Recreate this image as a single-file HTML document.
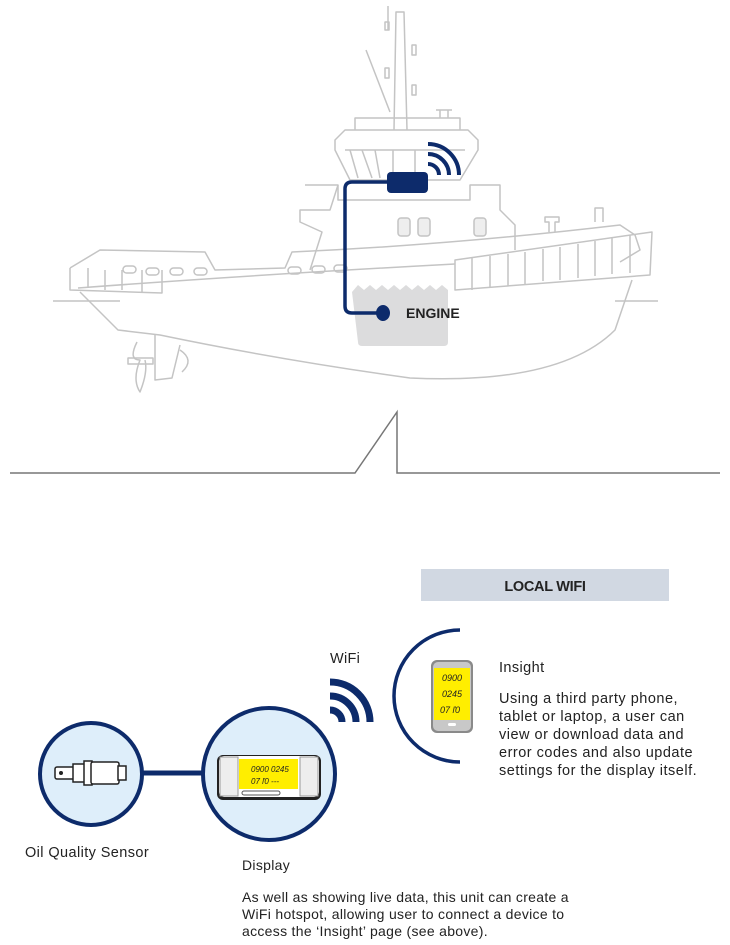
<!DOCTYPE html>
<html><head><meta charset="utf-8"><style>
html,body{margin:0;padding:0;background:#fff;}
svg{display:block}
text{font-family:"Liberation Sans",sans-serif;fill:#222;}
</style></head><body>
<svg width="730" height="945" viewBox="0 0 730 945" xmlns="http://www.w3.org/2000/svg">
<g fill="none" stroke="#c4c4c4" stroke-width="1.5" stroke-linejoin="round">
  <path d="M394 130 L396 12 L404 12 L407 130"/>
  <line x1="388" y1="6" x2="388" y2="30"/>
  <line x1="366" y1="50" x2="390" y2="112"/>
  <path d="M385 22 h4 v8 h-4z M412 45 h4 v10 h-4z M385 68 h4 v10 h-4z M412 85 h4 v10 h-4z"/>
  <path d="M355 130 L355 118 L460 118 L460 130"/>
  <path d="M440 118 v-8 h8 v8 M436 110 h16"/>
  <path d="M335 140 L345 130 L468 130 L478 140 L478 150 L460 180 L350 180 L335 150 Z"/>
  <path d="M345 150 L465 150"/>
  <path d="M350 150 L358 178 M362 150 L372 178 M375 150 L380 178 M393 150 L393 178 M415 150 L415 178"/>
  <path d="M305 185 L338 185 L338 200 L470 200 L470 185 L500 185 L500 210 L515 225 L515 250"/>
  <path d="M338 185 L330 210 L300 210 L300 222 L322 232 L310 270"/>
  <rect x="398" y="218" width="12" height="18" rx="3" fill="#eee"/>
  <rect x="418" y="218" width="12" height="18" rx="3" fill="#eee"/>
  <rect x="474" y="218" width="12" height="18" rx="3" fill="#eee"/>
  <path d="M549 232 v-10 h-4 v-5 h14 v5 h-4 v10 M595 222 v-14 h8 v14"/>
  <path d="M70 268 L100 250 L205 252 L215 270 L285 268 L292 252 Q450 245 620 225 L635 235 L640 250 L620 262"/>
  <path d="M78 288 Q250 275 455 264"/>
  <path d="M70 268 L70 290 L162 293 L162 270"/>
  <path d="M88 268 v20 M105 270 v20 M122 270 v20 M142 270 v22"/>
  <path d="M455 260 L455 290 Q560 282 650 275 L652 232 Q560 245 455 260 Z"/>
  <path d="M472 258 v32 M490 256 v32 M508 254 v32 M525 252 v32 M543 249 v32 M560 247 v33 M578 244 v34 M595 241 v35 M612 238 v36 M630 235 v38"/>
  <rect x="123" y="266" width="13" height="7" rx="3.5"/>
  <rect x="146" y="268" width="13" height="7" rx="3.5"/>
  <rect x="170" y="268" width="13" height="7" rx="3.5"/>
  <rect x="194" y="268" width="13" height="7" rx="3.5"/>
  <rect x="288" y="267" width="13" height="7" rx="3.5"/>
  <rect x="312" y="266" width="13" height="7" rx="3.5"/>
  <rect x="334" y="265" width="13" height="7" rx="3.5"/>
  <path d="M80 292 L118 330 L160 335 Q280 360 410 378 Q560 385 615 330 L632 280"/>
  <line x1="53" y1="301" x2="120" y2="301"/>
  <line x1="615" y1="301" x2="658" y2="301"/>
  <path d="M155 335 L155 380 L172 378 L180 345"/>
  <path d="M180 350 Q195 360 182 372"/>
  <path d="M137 342 Q128 360 140 360 Q132 380 140 392 Q148 372 145 360"/>
  <path d="M128 358 h25 v6 h-25z"/>
</g>
<path d="M352 292 l6-7 6 5 6-5 6 5 6-5 6 5 6-5 6 5 6-5 6 5 6-5 6 5 6-5 6 5 6-5 6 5 0 52 q0 4-4 4 h-82 q-4 0-4-4z" fill="#dcdcdd"/>
<path d="M390 182 L352 182 Q345 182 345 189 L345 306 Q345 313 352 313 L380 313" fill="none" stroke="#0d2b6b" stroke-width="3.5"/>
<ellipse cx="383" cy="313" rx="7" ry="8" fill="#0d2b6b"/>
<rect x="387" y="172" width="41" height="21" rx="4" fill="#0d2b6b"/>
<g fill="none" stroke="#0d2b6b" stroke-width="4">
  <path d="M428 144 A31 31 0 0 1 459 175"/>
  <path d="M428 154 A21 21 0 0 1 449 175"/>
  <path d="M428 164 A11 11 0 0 1 439 175"/>
</g>
<text x="406" y="318" font-size="14" font-weight="bold" fill="#222">ENGINE</text>
<path d="M10 473 L355 473 L397 412 L397 473 L720 473" fill="none" stroke="#777" stroke-width="1.5"/>

<rect x="421" y="569" width="248" height="32" fill="#d1d8e2"/>
<text x="545" y="591" font-size="14.5" font-weight="bold" text-anchor="middle" letter-spacing="-0.3">LOCAL WIFI</text>

<text x="330" y="663" font-size="14.5" letter-spacing="0.3">WiFi</text>
<g fill="none" stroke="#0d2b6b" stroke-width="7">
  <path d="M330 682 A40 40 0 0 1 370 722"/>
  <path d="M330 696 A26 26 0 0 1 356 722"/>
  <path d="M330 710 A12 12 0 0 1 342 722"/>
</g>
<path d="M460 630 A66 66 0 0 0 460 762" fill="none" stroke="#0d2b6b" stroke-width="3.5"/>
<rect x="431" y="660" width="42" height="73" rx="6" fill="#8a8a8a"/>
<rect x="433" y="662" width="38" height="69" rx="5" fill="#c8c8c8"/>
<rect x="434" y="668" width="36" height="52" fill="#ffee00"/>
<rect x="448" y="723" width="8" height="3" rx="1.5" fill="#fff"/>
<g font-size="9" font-style="italic" fill="#222">
<text x="442" y="681">0900</text><text x="442" y="697">0245</text><text x="440" y="713">07 ľ0</text>
</g>
<text x="499" y="672" font-size="14.5" letter-spacing="0.4">Insight</text>
<g font-size="14.5" fill="#222" letter-spacing="0.5">
<text x="499" y="703">Using a third party phone,</text>
<text x="499" y="721">tablet or laptop, a user can</text>
<text x="499" y="739">view or download data and</text>
<text x="499" y="757">error codes and also update</text>
<text x="499" y="775">settings for the display itself.</text>
</g>

<line x1="135" y1="773" x2="205" y2="773" stroke="#0d2b6b" stroke-width="5"/>
<circle cx="91" cy="774" r="51" fill="#deeefa" stroke="#0d2b6b" stroke-width="4"/>
<g stroke="#222" stroke-width="1.5" fill="#fff">
<rect x="55" y="767" width="20" height="12" rx="2"/>
<rect x="73" y="764" width="12" height="18"/>
<rect x="84" y="761" width="8" height="24"/>
<rect x="91" y="762" width="28" height="22" rx="2"/>
<rect x="118" y="766" width="8" height="14"/>
</g>
<circle cx="61" cy="773" r="2" fill="#222"/>
<circle cx="269" cy="774" r="66" fill="#deeefa" stroke="#0d2b6b" stroke-width="4"/>
<rect x="217" y="755" width="104" height="45" rx="6" fill="#222"/>
<rect x="219" y="756" width="100" height="41" rx="5" fill="#fff"/>
<rect x="220" y="757" width="18" height="39" fill="#eee" stroke="#999"/>
<rect x="300" y="757" width="18" height="39" fill="#eee" stroke="#999"/>
<rect x="239" y="759" width="59" height="30" fill="#ffee00"/>
<rect x="242" y="791" width="38" height="4" rx="2" fill="none" stroke="#555"/>
<g font-size="8" font-style="italic" fill="#222"><text x="251" y="772">0900 0245</text><text x="251" y="784">07 ľ0   ---</text></g>

<text x="25" y="857" font-size="14.5" letter-spacing="0.4">Oil Quality Sensor</text>
<text x="242" y="870" font-size="14" letter-spacing="0.3">Display</text>
<g font-size="14" letter-spacing="0.3">
<text x="242" y="902">As well as showing live data, this unit can create a</text>
<text x="242" y="919">WiFi hotspot, allowing user to connect a device to</text>
<text x="242" y="936">access the ‘Insight’ page (see above).</text>
</g>
</svg>
</body></html>
